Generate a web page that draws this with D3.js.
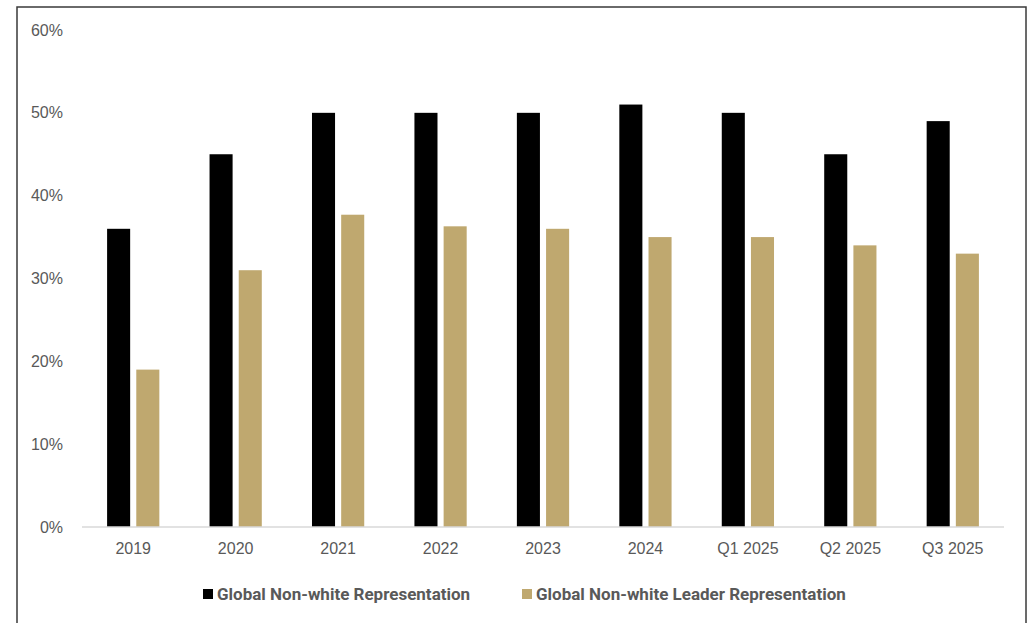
<!DOCTYPE html>
<html>
<head>
<meta charset="utf-8">
<script src="https://cdn.jsdelivr.net/npm/d3@7"></script>
<style>
  body { margin: 0; background: #fff; }
  svg { display: block; }
</style>
</head>
<body>
<div id="chart"></div>
<script>
const categories = ["2019", "2020", "2021", "2022", "2023", "2024", "Q1 2025", "Q2 2025", "Q3 2025"];
const seriesNames = ["Global Non-white Representation", "Global Non-white Leader Representation"];
const nonWhite = [0.36, 0.45, 0.50, 0.50, 0.50, 0.51, 0.50, 0.45, 0.49];
const nonWhiteLeader = [0.19, 0.31, 0.377, 0.363, 0.36, 0.35, 0.35, 0.34, 0.33];
const yTicks = [0, 0.1, 0.2, 0.3, 0.4, 0.5, 0.6];
const colors = ["#000000", "#bfa86f"];

const W = 1028, H = 623;
const margin = { top: 30, right: 24, bottom: 96, left: 82 };

const svg = d3.select("#chart").append("svg")
  .attr("width", W).attr("height", H);

// outer frame
svg.append("rect")
  .attr("x", 17).attr("y", 7)
  .attr("width", 1009).attr("height", 640)
  .attr("fill", "none")
  .attr("stroke", "#3a3a3a")
  .attr("stroke-width", 1.5);

const x0 = d3.scaleBand()
  .domain(categories)
  .range([margin.left, W - margin.right])
  .padding(0);

const bw = x0.bandwidth();
const x1 = d3.scaleBand()
  .domain([0, 1])
  .range([bw * 0.245, bw * 0.755])
  .paddingInner(0.21);

const y = d3.scaleLinear()
  .domain([0, 0.6])
  .range([H - margin.bottom, margin.top]);

const rows = categories.map((c, i) => ({ cat: c, vals: [nonWhite[i], nonWhiteLeader[i]] }));

// y labels (no gridlines)
svg.append("g")
  .selectAll("text")
  .data(yTicks)
  .join("text")
  .attr("x", 63)
  .attr("y", d => y(d))
  .attr("dy", "0.35em")
  .attr("text-anchor", "end")
  .attr("fill", "#595959")
  .style("font", "16px 'Liberation Sans', Arial, sans-serif")
  .text(d3.format(".0%"));

// bars
const g = svg.append("g")
  .selectAll("g")
  .data(rows)
  .join("g")
  .attr("transform", d => `translate(${x0(d.cat)},0)`);

g.selectAll("rect")
  .data(d => d.vals.map((v, k) => ({ k, v })))
  .join("rect")
  .attr("x", d => x1(d.k))
  .attr("width", x1.bandwidth())
  .attr("y", d => y(d.v))
  .attr("height", d => y(0) - y(d.v))
  .attr("fill", d => colors[d.k]);

// baseline
svg.append("line")
  .attr("x1", margin.left).attr("x2", W - margin.right)
  .attr("y1", y(0)).attr("y2", y(0))
  .attr("stroke", "#d9d9d9")
  .attr("stroke-width", 1.5);

// x labels
const xAxis = svg.append("g")
  .attr("transform", `translate(0,${y(0)})`)
  .call(d3.axisBottom(x0).tickSize(0).tickPadding(16));
xAxis.select(".domain").remove();
xAxis.selectAll("text")
  .attr("fill", "#595959")
  .style("font", "16px 'Liberation Sans', Arial, sans-serif");

// legend
const legendX = [203, 522];
const leg = svg.append("g")
  .selectAll("g")
  .data(seriesNames)
  .join("g")
  .attr("transform", (d, i) => `translate(${legendX[i]},594)`);

leg.append("rect")
  .attr("x", 0).attr("y", -5)
  .attr("width", 10).attr("height", 10)
  .attr("fill", (d, i) => colors[i]);

leg.append("text")
  .attr("x", 14)
  .attr("dy", "0.35em")
  .attr("fill", "#595959")
  .style("font", "bold 17px 'Roboto', sans-serif")
  .text(d => d);
</script>
</body>
</html>
